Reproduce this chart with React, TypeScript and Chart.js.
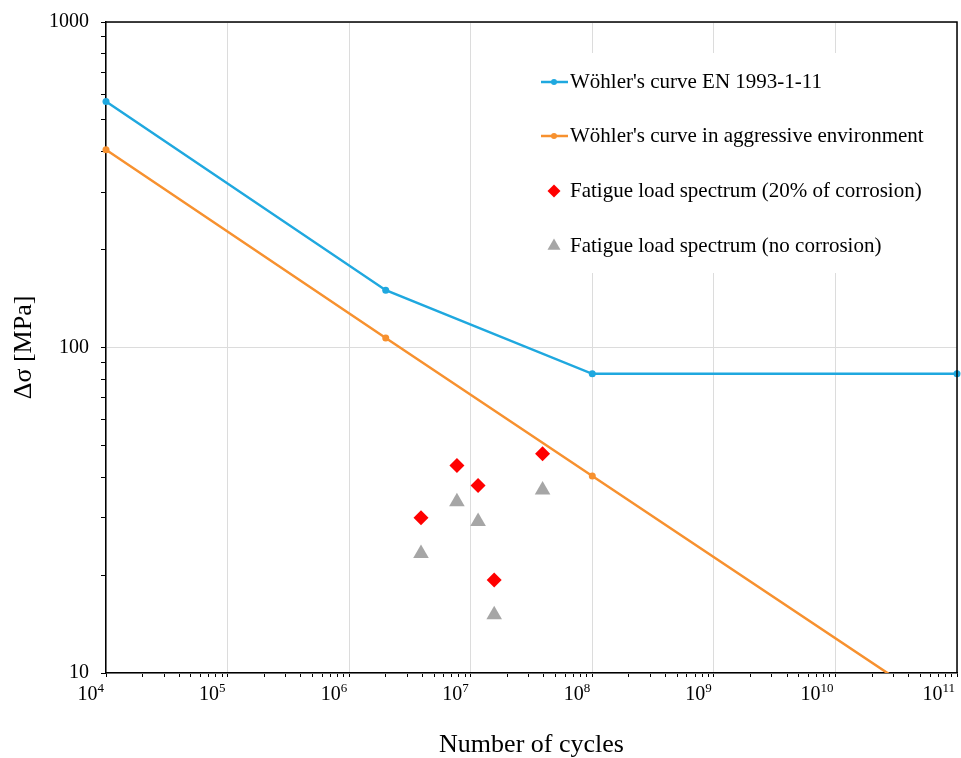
import React, { useEffect, useRef } from "react";
import { Chart, registerables } from "chart.js";

Chart.register(...registerables);

// ---- data ----
const seriesLabels = [
  "Wöhler's curve EN 1993-1-11",
  "Wöhler's curve in aggressive environment",
  "Fatigue load spectrum (20% of corrosion)",
  "Fatigue load spectrum (no corrosion)",
];

const blueCycles = [1e4, 2e6, 1e8, 1e11];
const blueStress = [570, 150, 83, 83];

const orangeCycles = [1e4, 2e6, 1e8, 1e11];
const orangeStress = [405, 107, 40.3, 7.2];

const spectrumCycles = [3.9e6, 7.7e6, 1.15e7, 1.56e7, 3.9e7];
const corrodedStress = [30.0, 43.4, 37.7, 19.3, 47.2];
const intactStress = [23.3, 33.6, 29.2, 15.1, 36.5];

const xTickExponents = [4, 5, 6, 7, 8, 9, 10, 11];
const yTickExponents = [1, 2, 3];
const minorMultipliers = [2, 3, 4, 5, 6, 7, 8, 9];

const xTitle = "Number of cycles";
const yTitle = "Δσ [MPa]";

// ---- styles ----
const BLUE = "#1FA8DF";
const ORANGE = "#F7912F";
const RED = "#FF0000";
const GRAY = "#A6A6A6";
const GRID = "#DCDCDC";
const FONT = '"Liberation Serif", "Times New Roman", serif';

function buildTicks(exps: number[]) {
  const out: { value: number; major: boolean }[] = [];
  exps.forEach((e, i) => {
    out.push({ value: Math.pow(10, e), major: true });
    if (i < exps.length - 1) {
      minorMultipliers.forEach((m) => out.push({ value: m * Math.pow(10, e), major: false }));
    }
  });
  return out;
}

function decadeExp(v: number): number | null {
  const l = Math.log10(v);
  const r = Math.round(l);
  return Math.abs(l - r) < 1e-9 ? r : null;
}

const zip = (xs: number[], ys: number[]) => xs.map((x, i) => ({ x, y: ys[i] }));

const frameAndLegend = {
  id: "frameAndLegend",
  afterDraw(chart: any) {
    const { ctx, chartArea } = chart;
    const a = chartArea;
    ctx.save();
    // inset legend with white background (hides grid lines)
    const lx = a.left + 424;
    const ly = a.top + 31;
    ctx.fillStyle = "#fff";
    ctx.fillRect(lx, ly, 420, 220);
    const symX = a.left + 448;
    const rows = [a.top + 60, a.top + 114, a.top + 169, a.top + 224];
    ctx.font = `21px ${FONT}`;
    ctx.textBaseline = "middle";
    ctx.textAlign = "left";
    chart.data.datasets.forEach((ds: any, i: number) => {
      const y = rows[i];
      if (ds.showLine) {
        ctx.strokeStyle = ds.borderColor;
        ctx.lineWidth = 2.5;
        ctx.beginPath();
        ctx.moveTo(symX - 13, y);
        ctx.lineTo(symX + 14, y);
        ctx.stroke();
        ctx.fillStyle = ds.pointBackgroundColor;
        ctx.beginPath();
        ctx.arc(symX, y, 3, 0, Math.PI * 2);
        ctx.fill();
      } else if (ds.pointStyle === "rectRot") {
        const r = 6.5;
        ctx.fillStyle = ds.pointBackgroundColor;
        ctx.beginPath();
        ctx.moveTo(symX - r, y);
        ctx.lineTo(symX, y - r);
        ctx.lineTo(symX + r, y);
        ctx.lineTo(symX, y + r);
        ctx.closePath();
        ctx.fill();
      } else {
        const r = 7.5;
        ctx.fillStyle = ds.pointBackgroundColor;
        ctx.beginPath();
        ctx.moveTo(symX, y - r);
        ctx.lineTo(symX + r * 0.866, y + r * 0.5);
        ctx.lineTo(symX - r * 0.866, y + r * 0.5);
        ctx.closePath();
        ctx.fill();
      }
      ctx.fillStyle = "#000";
      ctx.fillText(ds.label, a.left + 464, y);
    });

    // x tick labels as 10 with raised exponent
    const xs = chart.scales.x;
    ctx.textBaseline = "alphabetic";
    ctx.textAlign = "left";
    ctx.fillStyle = "#000";
    xs.ticks.forEach((t: any) => {
      const e = decadeExp(t.value);
      if (e === null) return;
      const px = xs.getPixelForValue(t.value);
      const base = String(t.label);
      const exp = String(e);
      ctx.font = `20px ${FONT}`;
      const wb = ctx.measureText(base).width;
      ctx.font = `13px ${FONT}`;
      const we = ctx.measureText(exp).width;
      const left = px - 2 - wb - we;
      ctx.font = `20px ${FONT}`;
      ctx.fillText(base, left, a.bottom + 27);
      ctx.font = `13px ${FONT}`;
      ctx.fillText(exp, left + wb, a.bottom + 19);
    });

    // top and right frame lines
    ctx.strokeStyle = "#000";
    ctx.lineWidth = 1.5;
    ctx.beginPath();
    ctx.moveTo(a.left, a.top);
    ctx.lineTo(a.right, a.top);
    ctx.lineTo(a.right, a.bottom);
    ctx.stroke();
    ctx.restore();
  },
};

export default function App() {
  const ref = useRef<HTMLCanvasElement>(null);

  useEffect(() => {
    if (!ref.current) return;
    Chart.defaults.font.family = FONT;
    Chart.defaults.color = "#000";
    const xTicks = buildTicks(xTickExponents);
    const yTicks = buildTicks(yTickExponents);

    const chart = new Chart(ref.current, {
      type: "scatter",
      data: {
        datasets: [
          {
            label: seriesLabels[0],
            data: zip(blueCycles, blueStress),
            showLine: true,
            borderColor: BLUE,
            backgroundColor: BLUE,
            pointBackgroundColor: BLUE,
            pointBorderColor: BLUE,
            borderWidth: 2.5,
            pointRadius: 3.5,
            pointBorderWidth: 0,
            clip: false as any,
          },
          {
            label: seriesLabels[1],
            data: zip(orangeCycles, orangeStress),
            showLine: true,
            borderColor: ORANGE,
            backgroundColor: ORANGE,
            pointBackgroundColor: ORANGE,
            pointBorderColor: ORANGE,
            borderWidth: 2.5,
            pointRadius: 3.5,
            pointBorderWidth: 0,
            clip: { left: 6, top: 6, right: 6, bottom: 0 } as any,
          },
          {
            label: seriesLabels[2],
            data: zip(spectrumCycles, corrodedStress),
            showLine: false,
            pointStyle: "rectRot",
            backgroundColor: RED,
            pointBackgroundColor: RED,
            pointBorderColor: RED,
            pointRadius: 7.5,
            pointBorderWidth: 0,
          },
          {
            label: seriesLabels[3],
            data: zip(spectrumCycles, intactStress),
            showLine: false,
            pointStyle: "triangle",
            backgroundColor: GRAY,
            pointBackgroundColor: GRAY,
            pointBorderColor: GRAY,
            pointRadius: 9,
            pointBorderWidth: 0,
          },
        ],
      },
      options: {
        responsive: false,
        animation: false,
        devicePixelRatio: 1,
        layout: { autoPadding: false, padding: { left: 0, top: 22, right: 4, bottom: 0 } },
        plugins: {
          legend: { display: false },
          tooltip: { enabled: false },
        },
        scales: {
          x: {
            type: "logarithmic",
            min: 1e4,
            max: 1e11,
            afterBuildTicks: (s: any) => {
              s.ticks = xTicks.map((t) => ({ ...t }));
            },
            afterFit: (s: any) => {
              s.height = 85;
              s.paddingLeft = 0;
              s.paddingRight = 0;
            },
            grid: {
              color: (c: any) => (c.tick && c.tick.major ? GRID : "rgba(0,0,0,0)"),
              lineWidth: 1,
              tickColor: "#000",
              tickLength: 4,
              tickWidth: 1,
            },
            border: { color: "#000", width: 1.5 },
            ticks: {
              display: false,
              autoSkip: false,
              callback: (v: any) => (decadeExp(Number(v)) === null ? "" : "10"),
            },
            title: {
              display: true,
              text: xTitle,
              color: "#000",
              font: { size: 26, family: FONT, lineHeight: 1 },
              padding: { top: 0, bottom: 0 },
            },
          },
          y: {
            type: "logarithmic",
            min: 10,
            max: 1000,
            afterBuildTicks: (s: any) => {
              s.ticks = yTicks.map((t) => ({ ...t }));
            },
            afterFit: (s: any) => {
              s.width = 106;
              s.paddingTop = 0;
              s.paddingBottom = 0;
            },
            grid: {
              color: (c: any) => (c.tick && c.tick.major ? GRID : "rgba(0,0,0,0)"),
              lineWidth: 1,
              tickColor: "#000",
              tickLength: 5,
              tickWidth: 1,
            },
            border: { color: "#000", width: 1.5 },
            ticks: {
              autoSkip: false,
              padding: 12,
              font: { size: 20, family: FONT },
              color: "#000",
              callback: (v: any) => {
                const e = decadeExp(Number(v));
                return e === null ? "" : String(Math.pow(10, e));
              },
            },
            title: {
              display: true,
              text: yTitle,
              color: "#000",
              font: { size: 26, family: FONT, lineHeight: 1 },
              padding: { top: 11, bottom: 0 },
            },
          },
        },
      },
      plugins: [frameAndLegend],
    });
    return () => chart.destroy();
  }, []);

  return (
    <div style={{ position: "absolute", left: 0, top: 0, width: 961, height: 758, background: "#fff" }}>
      <canvas ref={ref} width={961} height={758} style={{ display: "block" }} />
    </div>
  );
}
